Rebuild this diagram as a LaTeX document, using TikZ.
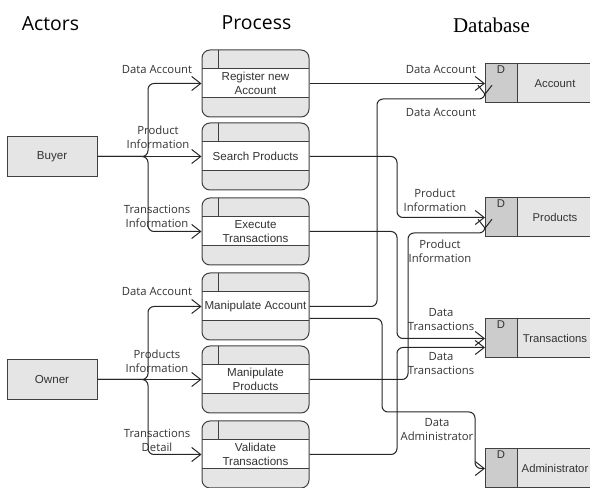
\documentclass[tikz,border=0pt]{standalone}
\usepackage{fontspec}
\setmainfont{Liberation Sans}
\newfontfamily\opensans{Open Sans}
\newfontfamily\serifhead{Liberation Serif}
\usepackage{tikz}
\usetikzlibrary{arrows.meta,positioning,calc}

\begin{document}
\begin{tikzpicture}[
  x=1pt,y=1pt,
  head/.style={font=\opensans\fontsize{19.4}{22}\selectfont, inner sep=0pt},
  dbhead/.style={font=\serifhead\fontsize{21}{24}\selectfont, inner sep=0pt},
  lbl/.style={font=\opensans\fontsize{11.3}{14}\selectfont, text=black!80, align=center, inner sep=0pt},
  actor/.style={draw=black!75, line width=1pt, fill=gray!20, minimum width=90pt, minimum height=40pt, font=\fontsize{11.6}{14}\selectfont, text=black!80},
  proc/.style={draw=black!75, line width=1pt, rounded corners=8pt, fill=white, minimum width=107pt, minimum height=67pt, inner sep=0pt, align=center, font=\fontsize{11.6}{14}\selectfont, text=black!80,
    path picture={
      \fill[gray!20, sharp corners] (path picture bounding box.north west) rectangle ([yshift=-19pt]path picture bounding box.north east);
      \fill[gray!20, sharp corners] (path picture bounding box.south west) rectangle ([yshift=19pt]path picture bounding box.south east);
      \draw[black!75, line width=1pt, sharp corners]
        ([yshift=-19pt]path picture bounding box.north west) -- ([yshift=-19pt]path picture bounding box.north east)
        ([yshift=19pt]path picture bounding box.south west) -- ([yshift=19pt]path picture bounding box.south east)
        ([xshift=16pt]path picture bounding box.north west) -- ([xshift=16pt,yshift=-19pt]path picture bounding box.north west);
    }},
  dbkey/.style={draw=black!75, line width=1pt, fill=gray!40, minimum width=32pt, minimum height=39pt, inner sep=0pt, outer sep=0pt,
    label={[font=\fontsize{11.3}{13}\selectfont, text=black!80, anchor=north, inner sep=1.5pt]north:D}},
  dbname/.style={draw=black!75, line width=1pt, fill=gray!20, minimum width=76pt, minimum height=39pt, inner sep=0pt, outer sep=0pt, font=\fontsize{11.3}{13}\selectfont, text=black!80},
  flow/.style={draw=black!85, line width=1pt, rounded corners=6pt, -{Straight Barb[length=9pt,width=14pt]}}
]
\useasboundingbox (0,0) rectangle (590,488);
\clip (0,0) rectangle (590,488);
\node[head] (actors) at (50.5,464) {Actors};
\node[head] (process) at (256.5,465) {Process};
\node[dbhead] (database) at (491.5,463) {Database};
\node[actor] (buyer) at (52,331.5) {Buyer};
\node[actor] (owner) at (52,108.5) {Owner};
\node[proc] (reg) at (255.5,404.5) {Register new\\Account};
\node[proc] (srch) at (255.5,331.5) {Search Products};
\node[proc] (exe) at (255.5,256.5) {Execute\\Transactions};
\node[proc] (macc) at (255.5,181.5) {Manipulate Account};
\node[proc] (mprod) at (255.5,108.5) {Manipulate\\Products};
\node[proc] (valid) at (255.5,33.5) {Validate\\Transactions};
\node[dbkey] (acck) at (501,404.5) {};
\node[dbname, right=0pt of acck] (acc) {Account};
\node[dbkey] (prodk) at (501,270.5) {};
\node[dbname, right=0pt of prodk] (prod) {Products};
\node[dbkey] (transk) at (501,149.5) {};
\node[dbname, right=0pt of transk] (trans) {Transactions};
\node[dbkey] (admk) at (501,19.5) {};
\node[dbname, right=0pt of admk] (adm) {Administrator};
\node[lbl] (lda1) at (157,418) {Data Account};
\node[lbl] (lpi1) at (158,351) {Product\\Information};
\node[lbl] (lti) at (157,271.5) {Transactions\\Information};
\node[lbl] (lda2) at (157,196) {Data Account};
\node[lbl] (lpi2) at (157,127) {Products\\Information};
\node[lbl] (ltd) at (157,48) {Transactions\\Detail};
\node[lbl] (lda3) at (441,418) {Data Account};
\node[lbl] (lda4) at (441,375) {Data Account};
\node[lbl] (lpi3) at (435,288) {Product\\Information};
\node[lbl] (lpi4) at (440,236.5) {Product\\Information};
\node[lbl] (ldt1) at (441,168.5) {Data\\Transactions};
\node[lbl] (ldt2) at (441,124.5) {Data\\Transactions};
\node[lbl] (lda5) at (437,58) {Data\\Administrator};
\coordinate (busb) at (148,331.5);
\coordinate (buso) at (148,108.5);
\draw[flow] (buyer.east) -- (busb) |- (reg.west);
\draw[flow] (buyer.east) -- (srch.west);
\draw[flow] (buyer.east) -- (busb) |- (exe.west);
\draw[flow] (owner.east) -- (buso) |- (macc.west);
\draw[flow] (owner.east) -- (mprod.west);
\draw[flow] (owner.east) -- (buso) |- (valid.west);
\draw[flow] (reg.east) -- (acck.west);
\draw[flow] (macc.east) -| (377,389) -- (485,389) [sharp corners] -- ([yshift=8pt]acck.south west);
\draw[flow] (srch.east) -| (397,270.5) -- (prodk.west);
\draw[flow] (mprod.east) -| (408,255) -- (485,255) [sharp corners] -- ([yshift=8pt]prodk.south west);
\draw[flow] (exe.east) -| (397,149.5) -- (transk.west);
\draw[flow] (valid.east) -| (397,140.5) -- ([yshift=-9pt]transk.west);
\draw[flow] ([yshift=-12pt]macc.east) -| (382,76) -| (475,19.5) -- (admk.west);
\end{tikzpicture}
\end{document}
